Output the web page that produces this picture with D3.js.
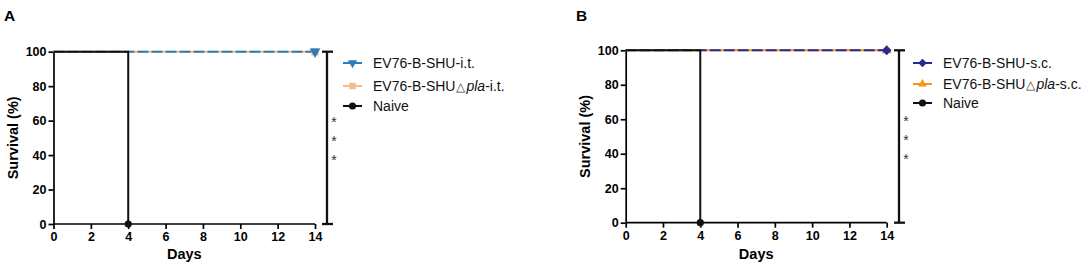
<!DOCTYPE html>
<html><head><meta charset="utf-8">
<script src="https://cdn.jsdelivr.net/npm/d3@7"></script>
<style>
body{margin:0;background:#fff;}
svg{display:block;font-family:"Liberation Sans",Arial,sans-serif;}
</style></head>
<body>
<svg id="c" width="1085" height="267"></svg>
<script>
const xTicks = [0, 2, 4, 6, 8, 10, 12, 14];
const yTicks = [0, 20, 40, 60, 80, 100];
const naiveDays = [0, 4, 4];
const naiveSurvival = [100, 100, 0];
const vaccDays = [0, 14];
const vaccSurvival = [100, 100];
const panelLabels = ["A", "B"];
const legendA = ["EV76-B-SHU-i.t.", "EV76-B-SHU△pla-i.t.", "Naive"];
const legendB = ["EV76-B-SHU-s.c.", "EV76-B-SHU△pla-s.c.", "Naive"];
const significance = ["*", "*", "*"];

const svg = d3.select("#c");

function panel(cfg){
  const g = svg.append("g");
  const x = d3.scaleLinear().domain([0,14]).range([cfg.x0, cfg.x1]);
  const y = d3.scaleLinear().domain([0,100]).range([cfg.y0, cfg.y1]);

  g.append("text").attr("x", cfg.lx).attr("y", 20.5).attr("font-size", 15.5).attr("font-weight", "bold").text(cfg.label);

  const xa = g.append("g").attr("transform", `translate(0,${cfg.y0})`)
    .call(d3.axisBottom(x).tickValues(xTicks).tickSize(5).tickSizeOuter(0).tickPadding(3));
  const ya = g.append("g").attr("transform", `translate(${cfg.x0},0)`)
    .call(d3.axisLeft(y).tickValues(yTicks).tickSize(5).tickSizeOuter(0).tickPadding(2));
  [xa, ya].forEach(a => {
    a.selectAll("path,line").attr("stroke", "#000").attr("stroke-width", 1.7);
    a.selectAll("text").attr("font-size", 12.5).attr("font-weight", "bold").attr("fill", "#000")
      .attr("font-family", "Liberation Sans, Arial, sans-serif");
  });
  xa.select(".domain").attr("d", `M${cfg.x0},0H${cfg.x1}`);

  g.append("text").attr("x", (cfg.x0 + cfg.x1)/2).attr("y", 258.5).attr("text-anchor", "middle")
    .attr("font-size", 14.5).attr("font-weight", "bold").text("Days");
  g.append("text").attr("transform", `translate(${cfg.x0 - 36},${(cfg.y0 + cfg.y1)/2}) rotate(-90)`)
    .attr("text-anchor", "middle").attr("font-size", 14.5).attr("font-weight", "bold").text("Survival (%)");

  const line = d3.line().x(d => x(d[0])).y(d => y(d[1]));
  const vacc = vaccDays.map((d, i) => [d, vaccSurvival[i]]);
  const naive = naiveDays.map((d, i) => [d, naiveSurvival[i]]);

  g.append("path").attr("d", line(vacc)).attr("fill", "none").attr("stroke", cfg.c2).attr("stroke-width", 2);
  g.append("path").attr("d", line(vacc)).attr("fill", "none").attr("stroke", cfg.c1).attr("stroke-width", 2)
    .attr("stroke-dasharray", cfg.dash);
  g.append("path").attr("d", line(naive)).attr("fill", "none").attr("stroke", "#111").attr("stroke-width", 2);

  const last = vacc[vacc.length - 1];
  g.append("path").attr("transform", `translate(${x(last[0])},${y(last[1])}) rotate(${cfg.rot2})`)
    .attr("d", d3.symbol().type(cfg.sym2).size(cfg.sym2size)()).attr("fill", cfg.c2);
  g.append("path").attr("transform", `translate(${x(last[0])},${y(last[1])}) rotate(${cfg.rot1})`)
    .attr("d", d3.symbol().type(cfg.sym1).size(cfg.sym1size)()).attr("fill", cfg.c1);
  const nl = naive[naive.length - 1];
  g.append("circle").attr("cx", x(nl[0])).attr("cy", y(nl[1])).attr("r", 3.6).attr("fill", "#111");

  // significance bracket
  const bx = cfg.bx;
  const br = g.append("g").attr("stroke", "#111").attr("stroke-width", 2.3);
  br.append("line").attr("x1", bx).attr("x2", bx).attr("y1", y(100)).attr("y2", y(0));
  br.append("line").attr("x1", bx - 5).attr("x2", bx + 6).attr("y1", y(100)).attr("y2", y(100));
  br.append("line").attr("x1", bx - 5).attr("x2", bx + 6).attr("y1", y(0)).attr("y2", y(0));
  significance.forEach((s, i) => {
    g.append("text").attr("x", bx + 7).attr("y", cfg.starY[i]).attr("text-anchor", "middle")
      .attr("font-size", 14).attr("fill", "#333").text(s);
  });

  // legend
  const legTypes = [cfg.sym1, cfg.sym2, d3.symbolCircle];
  const legCols = [cfg.c1, cfg.c2, "#111"];
  const legSizes = [cfg.sym1size * 0.75, cfg.sym2size * 0.75, 40];
  const legRot = [cfg.rot1, cfg.rot2, 0];
  cfg.legend.forEach((t, i) => {
    const ly = cfg.legY[i];
    g.append("line").attr("x1", cfg.legX).attr("x2", cfg.legX + 19).attr("y1", ly).attr("y2", ly)
      .attr("stroke", legCols[i]).attr("stroke-width", 2);
    g.append("path").attr("transform", `translate(${cfg.legX + 9.5},${ly}) rotate(${legRot[i]})`)
      .attr("d", d3.symbol().type(legTypes[i]).size(legSizes[i])()).attr("fill", legCols[i]);
    const tx = g.append("text").attr("x", cfg.legX + 30).attr("y", ly + 5).attr("font-size", 14).attr("fill", "#111");
    const parts = t.split("△");
    if (parts.length === 2) {
      tx.append("tspan").text(parts[0]);
      tx.append("tspan").attr("font-size", 11.5).attr("dy", -0.5).attr("dx", 0.5).attr("fill", "#444").text("△");
      const rest = parts[1].match(/^(pla)(.*)$/);
      tx.append("tspan").attr("font-style", "italic").attr("dy", 0.5).attr("dx", 1.5).text(rest[1]);
      tx.append("tspan").text(rest[2]);
    } else tx.text(t);
  });
}

panel({label: panelLabels[0], lx: 4, x0: 53.5, x1: 315, y0: 224, y1: 51.7, c1: "#2a7db8", c2: "#f4bd8a",
  dash: "11,3", sym1: d3.symbolTriangle, rot1: 180, sym1size: 50, sym2: d3.symbolSquare, rot2: 0, sym2size: 55,
  bx: 327, starY: [127, 146, 165], legend: legendA, legX: 343, legY: [63, 86, 106]});
panel({label: panelLabels[1], lx: 576, x0: 625.7, x1: 886.7, y0: 222.7, y1: 50.3, c1: "#262a94", c2: "#f7941d",
  dash: "11,3", sym1: d3.symbolSquare, rot1: 45, sym1size: 48, sym2: d3.symbolTriangle, rot2: 0, sym2size: 45,
  bx: 899, starY: [126, 145, 164], legend: legendB, legX: 913, legY: [63, 84, 103]});
</script>
</body></html>
